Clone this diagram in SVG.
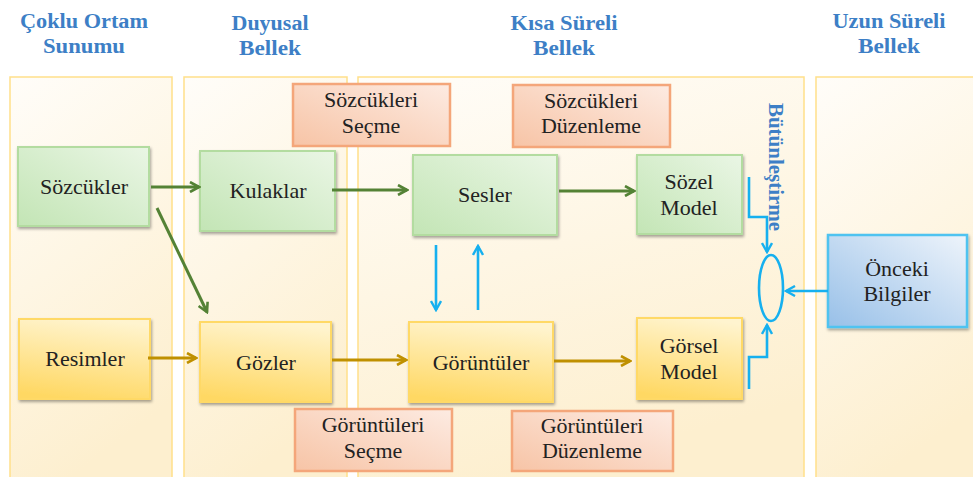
<svg xmlns="http://www.w3.org/2000/svg" width="973" height="477" viewBox="0 0 973 477">
<defs>
<linearGradient id="gPanel" x1="0" y1="0" x2="0.3" y2="1">
<stop offset="0" stop-color="#fffdf9"/><stop offset="1" stop-color="#fdefcf"/>
</linearGradient>
<linearGradient id="gGreen" x1="1" y1="0" x2="0" y2="1">
<stop offset="0" stop-color="#eaf6e5"/><stop offset="1" stop-color="#c3e5b5"/>
</linearGradient>
<linearGradient id="gYellow" x1="0.6" y1="0" x2="0.4" y2="1">
<stop offset="0" stop-color="#fff4cf"/><stop offset="1" stop-color="#ffd863"/>
</linearGradient>
<linearGradient id="gOrange" x1="1" y1="0" x2="0" y2="1">
<stop offset="0" stop-color="#fdebe2"/><stop offset="1" stop-color="#f7c4a6"/>
</linearGradient>
<linearGradient id="gBlue" x1="1" y1="0" x2="0" y2="1">
<stop offset="0" stop-color="#eef4fb"/><stop offset="1" stop-color="#98c0e8"/>
</linearGradient>
<filter id="sh" x="-10%" y="-10%" width="125%" height="130%">
<feDropShadow dx="1" dy="2" stdDeviation="1.5" flood-color="#000" flood-opacity="0.35"/>
</filter>
<marker id="aG" viewBox="0 0 12 12" refX="10" refY="6" markerWidth="12" markerHeight="12" markerUnits="userSpaceOnUse" orient="auto">
<path d="M1,1 L10,6 L1,11" fill="none" stroke="#548235" stroke-width="2.6"/>
</marker>
<marker id="aY" viewBox="0 0 12 12" refX="10" refY="6" markerWidth="12" markerHeight="12" markerUnits="userSpaceOnUse" orient="auto">
<path d="M1,1 L10,6 L1,11" fill="none" stroke="#bf9000" stroke-width="2.6"/>
</marker>
<marker id="aB" viewBox="0 0 12 12" refX="10" refY="6" markerWidth="12" markerHeight="12" markerUnits="userSpaceOnUse" orient="auto">
<path d="M1,1 L10,6 L1,11" fill="none" stroke="#16b0ef" stroke-width="2.4"/>
</marker>
</defs>
<style>
.panel{fill:url(#gPanel);stroke:#ffe08a;stroke-width:1.5}
.hdr{font-family:'Liberation Serif','Times New Roman','DejaVu Serif',serif;font-weight:bold;font-size:20px;fill:#3d7fc6;text-anchor:middle}
.t{font-family:'Liberation Serif','Times New Roman','DejaVu Serif',serif;font-size:22px;fill:#222;text-anchor:middle}
.green{fill:url(#gGreen);stroke:#b3dca0;stroke-width:2;filter:url(#sh)}
.yellow{fill:url(#gYellow);stroke:#ffd966;stroke-width:2;filter:url(#sh)}
.orange{fill:url(#gOrange);stroke:#f4a67a;stroke-width:2.5}
.blue{fill:url(#gBlue);stroke:#4fc3f0;stroke-width:2.5;filter:url(#sh)}
.cg{fill:none;stroke:#548235;stroke-width:3}
.cy{fill:none;stroke:#bf9000;stroke-width:3}
.cb{fill:none;stroke:#16b0ef;stroke-width:2.6}
</style>
<g id="panels">
<rect class="panel" x="10" y="77" width="162" height="410"/>
<rect class="panel" x="184" y="77" width="163" height="410"/>
<rect class="panel" x="358" y="77" width="446" height="410"/>
<rect class="panel" x="816" y="77" width="170" height="410"/>
</g>
<g id="headers">
<text class="hdr" x="84" y="28" textLength="128" lengthAdjust="spacingAndGlyphs">Çoklu Ortam</text>
<text class="hdr" x="84" y="53" textLength="82" lengthAdjust="spacingAndGlyphs">Sunumu</text>
<text class="hdr" x="270" y="30" textLength="77" lengthAdjust="spacingAndGlyphs">Duyusal</text>
<text class="hdr" x="270" y="55" textLength="62" lengthAdjust="spacingAndGlyphs">Bellek</text>
<text class="hdr" x="564" y="30" textLength="107" lengthAdjust="spacingAndGlyphs">Kısa Süreli</text>
<text class="hdr" x="564" y="55" textLength="62" lengthAdjust="spacingAndGlyphs">Bellek</text>
<text class="hdr" x="889" y="28" textLength="113" lengthAdjust="spacingAndGlyphs">Uzun Süreli</text>
<text class="hdr" x="889" y="53" textLength="62" lengthAdjust="spacingAndGlyphs">Bellek</text>
</g>
<g id="n-sozcukleri-secme">
<rect class="orange" x="293" y="84" width="157" height="62"/>
<text class="t" x="371" y="107">Sözcükleri</text>
<text class="t" x="371" y="133">Seçme</text>
</g>
<g id="n-sozcukleri-duzenleme">
<rect class="orange" x="513" y="85" width="157" height="62"/>
<text class="t" x="591" y="108">Sözcükleri</text>
<text class="t" x="591" y="133">Düzenleme</text>
</g>
<g id="n-goruntuleri-secme">
<rect class="orange" x="295" y="409" width="157" height="62"/>
<text class="t" x="373" y="432">Görüntüleri</text>
<text class="t" x="373" y="458">Seçme</text>
</g>
<g id="n-goruntuleri-duzenleme">
<rect class="orange" x="512" y="411" width="161" height="60"/>
<text class="t" x="592" y="433">Görüntüleri</text>
<text class="t" x="592" y="458">Düzenleme</text>
</g>
<g id="n-sozcukler">
<rect class="green" x="18" y="147" width="131" height="79"/>
<text class="t" x="84" y="194">Sözcükler</text>
</g>
<g id="n-kulaklar">
<rect class="green" x="200" y="151" width="135" height="80"/>
<text class="t" x="268" y="198">Kulaklar</text>
</g>
<g id="n-sesler">
<rect class="green" x="413" y="155" width="144" height="80"/>
<text class="t" x="485" y="202">Sesler</text>
</g>
<g id="n-sozel-model">
<rect class="green" x="637" y="155" width="105" height="79"/>
<text class="t" x="689" y="189">Sözel</text>
<text class="t" x="689" y="215">Model</text>
</g>
<g id="n-resimler">
<rect class="yellow" x="19" y="319" width="131" height="80"/>
<text class="t" x="85" y="366">Resimler</text>
</g>
<g id="n-gozler">
<rect class="yellow" x="200" y="322" width="131" height="80"/>
<text class="t" x="266" y="370">Gözler</text>
</g>
<g id="n-goruntuler">
<rect class="yellow" x="409" y="322" width="144" height="80"/>
<text class="t" x="481" y="370">Görüntüler</text>
</g>
<g id="n-gorsel-model">
<rect class="yellow" x="637" y="318" width="105" height="81"/>
<text class="t" x="689" y="353">Görsel</text>
<text class="t" x="689" y="379">Model</text>
</g>
<g id="n-onceki-bilgiler">
<rect class="blue" x="828" y="235" width="139" height="92"/>
<text class="t" x="897" y="276">Önceki</text>
<text class="t" x="897" y="301">Bilgiler</text>
</g>
<g id="n-butunlestirme">
<ellipse cx="771" cy="288" rx="12" ry="33" fill="none" stroke="#16b0ef" stroke-width="2.6"/>
<text class="hdr" transform="translate(769,167) rotate(90)" font-size="18" textLength="128" lengthAdjust="spacingAndGlyphs">Bütünleştirme</text>
</g>
<g id="connectors">
<line class="cg" x1="151" y1="187" x2="199" y2="187" marker-end="url(#aG)"/>
<line class="cg" x1="157" y1="208" x2="207" y2="312" marker-end="url(#aG)"/>
<line class="cg" x1="332" y1="190" x2="407" y2="190" marker-end="url(#aG)"/>
<line class="cg" x1="559" y1="191" x2="634" y2="191" marker-end="url(#aG)"/>
<line class="cy" x1="148" y1="358" x2="196" y2="358" marker-end="url(#aY)"/>
<line class="cy" x1="332" y1="360" x2="406" y2="360" marker-end="url(#aY)"/>
<line class="cy" x1="554" y1="361" x2="630" y2="361" marker-end="url(#aY)"/>
<line class="cb" x1="436" y1="245" x2="436" y2="310" marker-end="url(#aB)"/>
<line class="cb" x1="478" y1="310" x2="478" y2="246" marker-end="url(#aB)"/>
<polyline class="cb" points="749,177 749,217 767,217 767,252" marker-end="url(#aB)"/>
<polyline class="cb" points="749,389 749,357 767,357 767,325" marker-end="url(#aB)"/>
<line class="cb" x1="828" y1="291" x2="786" y2="291" marker-end="url(#aB)"/>
</g>
</svg>
